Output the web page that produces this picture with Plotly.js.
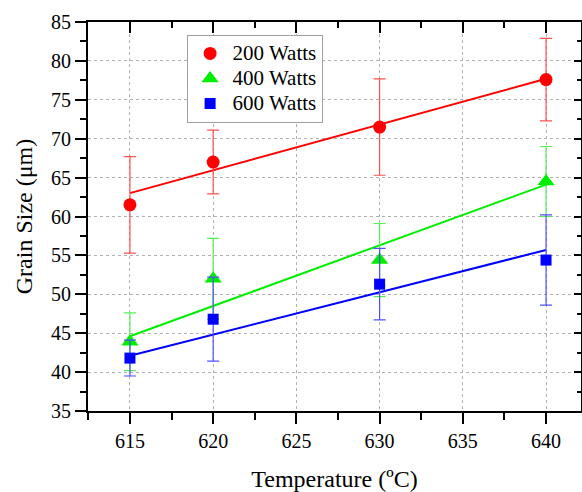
<!DOCTYPE html>
<html>
<head>
<meta charset="utf-8">
<script src="https://cdn.plot.ly/plotly-3.0.1.min.js"></script>
<style>
html,body{margin:0;padding:0;background:#fff;overflow:hidden;}
#chart{width:582px;height:492px;}
</style>
</head>
<body>
<div id="chart"></div>
<script>
// Data
var temps = [615, 620, 630, 640];
var grain200 = [61.5, 67.0, 71.5, 77.6];
var err200 = [6.2, 4.1, 6.2, 5.3];
var grain400 = [43.9, 52.0, 54.4, 64.5];
var err400 = [3.7, 5.2, 4.7, 4.5];
var grain600 = [41.8, 46.8, 51.3, 54.4];
var err600 = [2.3, 5.4, 4.6, 5.8];
var fitX = [615, 640];
var fit200 = [63.0, 77.7];
var fit400 = [44.6, 64.1];
var fit600 = [42.1, 55.7];
var seriesNames = ['200 Watts', '400 Watts', '600 Watts'];

var serif = '"Liberation Serif", "Times New Roman", serif';

function fitLine(y, color) {
  return {x: fitX, y: y, mode: 'lines', type: 'scatter', showlegend: false,
          hoverinfo: 'skip', line: {color: color, width: 2}};
}
function pts(y, err, name, color, errColor, symbol, size) {
  return {x: temps, y: y, name: '<span style="font-size:21px">' + name + '</span>',
          mode: 'markers', type: 'scatter',
          marker: {color: color, symbol: symbol, size: size, line: {width: 0}},
          error_y: {type: 'data', array: err, visible: true, color: errColor, thickness: 1.2, width: 6}};
}

var data = [
  fitLine(fit200, '#ff0000'),
  fitLine(fit400, '#00ee00'),
  fitLine(fit600, '#0000ff'),
  pts(grain200, err200, seriesNames[0], '#ff0000', '#ff5050', 'circle', 13),
  pts(grain400, err400, seriesNames[1], '#00ee00', '#55ee55', 'triangle-up', 15),
  pts(grain600, err600, seriesNames[2], '#0000ff', '#5050ff', 'square', 11),
  {x: [], y: [], xaxis: 'x2', yaxis: 'y2', showlegend: false, type: 'scatter'}
];

var xr = [612.48, 642.1];
var yr = [35, 85];

var layout = {
  width: 582, height: 492,
  margin: {l: 88, r: 1, t: 22, b: 81},
  paper_bgcolor: '#ffffff', plot_bgcolor: '#ffffff',
  font: {family: serif, size: 20, color: '#000'},
  showlegend: true,
  legend: {x: 0.2, y: 0.967, xanchor: 'left', yanchor: 'top', itemwidth: 35,
           bgcolor: '#ffffff', bordercolor: '#a0a0a0', borderwidth: 1,
           font: {family: serif, size: 17, color: '#000'}},
  xaxis: {
    range: xr, tick0: 615, dtick: 5, ticks: 'outside', ticklen: 11, tickwidth: 2, tickcolor: '#000',
    showline: true, linecolor: '#000', linewidth: 2, zeroline: false,
    showgrid: true, gridcolor: '#b0b0b0', griddash: 'dot', gridwidth: 1,
    minor: {tick0: 612.5, dtick: 2.5, ticks: 'outside', ticklen: 7, tickwidth: 2, tickcolor: '#000', showgrid: false},
    tickfont: {family: serif, size: 20},
    title: {text: 'Temperature (ºC)', font: {family: serif, size: 24}, standoff: 20}
  },
  yaxis: {
    range: yr, tick0: 35, dtick: 5, ticks: 'outside', ticklen: 11, tickwidth: 2, tickcolor: '#000',
    showline: true, linecolor: '#000', linewidth: 2, zeroline: false,
    showgrid: true, gridcolor: '#b0b0b0', griddash: 'dot', gridwidth: 1,
    minor: {dtick: 2.5, ticks: 'outside', ticklen: 6, tickwidth: 2, tickcolor: '#000', showgrid: false},
    tickfont: {family: serif, size: 20},
    title: {text: 'Grain Size (μm)', font: {family: serif, size: 24}, standoff: 12}
  },
  xaxis2: {
    overlaying: 'x', side: 'top', anchor: 'y2', range: xr, tick0: 615, dtick: 5,
    ticks: 'inside', ticklen: 11, tickwidth: 2, tickcolor: '#000', showticklabels: false,
    showline: true, linecolor: '#000', linewidth: 2, zeroline: false, showgrid: false,
    minor: {tick0: 612.5, dtick: 2.5, ticks: 'inside', ticklen: 6, tickwidth: 2, tickcolor: '#000', showgrid: false}
  },
  yaxis2: {
    overlaying: 'y', side: 'right', anchor: 'x2', range: yr, tick0: 35, dtick: 5,
    ticks: 'inside', ticklen: 7, tickwidth: 2, tickcolor: '#000', showticklabels: false,
    showline: true, linecolor: '#000', linewidth: 2, zeroline: false, showgrid: false,
    minor: {dtick: 2.5, ticks: 'inside', ticklen: 4, tickwidth: 2, tickcolor: '#000', showgrid: false}
  }
};

Plotly.newPlot('chart', data, layout, {displayModeBar: false, staticPlot: true});
</script>
</body>
</html>
